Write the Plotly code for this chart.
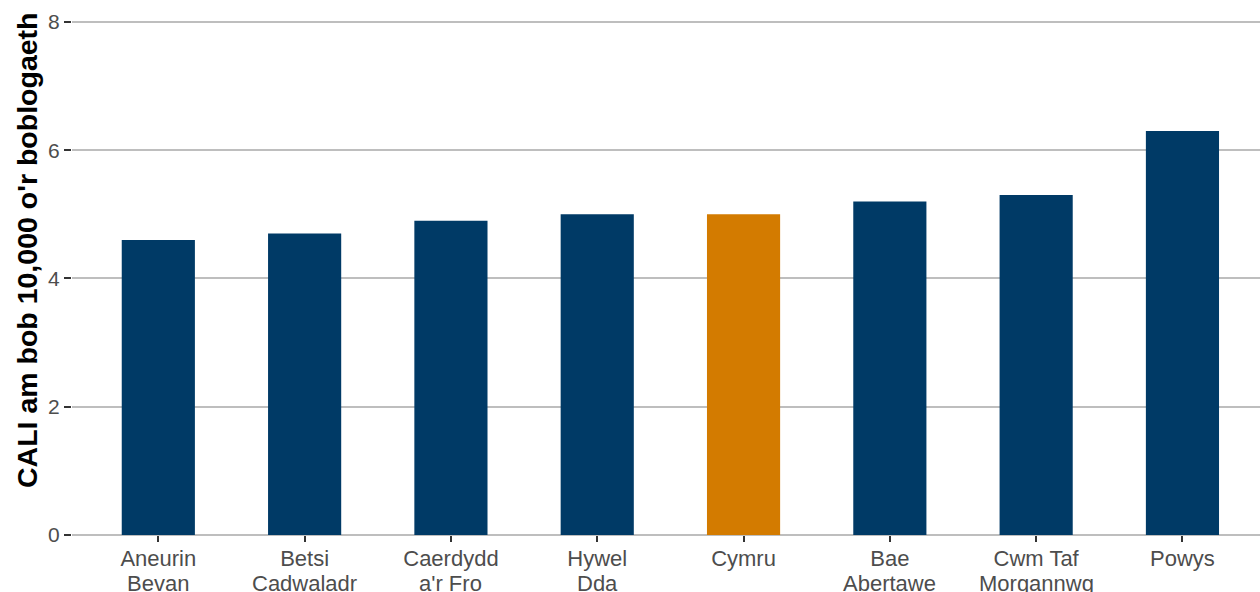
import plotly.graph_objects as go

categories = ["Aneurin<br>Bevan", "Betsi<br>Cadwaladr", "Caerdydd<br>a'r Fro", "Hywel<br>Dda",
              "Cymru", "Bae<br>Abertawe", "Cwm Taf<br>Morgannwg", "Powys"]
values = [4.6, 4.7, 4.9, 5.0, 5.0, 5.2, 5.3, 6.3]
highlight = "Cymru"
y_title = "CALI am bob 10,000 o'r boblogaeth"

NAVY = "#003A66"
ORANGE = "#D37B00"
GRID = "#BEBEBE"
colors = [ORANGE if c == highlight else NAVY for c in categories]

line1 = [c.split("<br>")[0] for c in categories]
line2 = [c.split("<br>")[1] if "<br>" in c else "" for c in categories]

T, B = 20, 535
H = B - T

fig = go.Figure(go.Bar(x=list(range(len(categories))), y=values, width=0.5,
                       marker=dict(color=colors, line=dict(width=0)),
                       hoverinfo="skip"))

fig.update_layout(
    width=1260, height=592,
    margin=dict(l=72, r=0, t=T, b=592 - B),
    plot_bgcolor="white", paper_bgcolor="white",
    showlegend=False,
    font=dict(family="Liberation Sans, Arial, sans-serif", color="#4D4D4D", size=21),
)
fig.update_xaxes(
    tickmode="array", tickvals=list(range(len(categories))), ticktext=line1,
    range=[-0.59, 7.53], showgrid=False, zeroline=False, showline=False,
    ticks="outside", ticklen=6, tickwidth=1.5, tickcolor="#333333",
    tickfont=dict(size=22, color="#4D4D4D"), automargin=False, ticklabelstandoff=-2,
)
fig.update_yaxes(
    range=[0, 8.03], tickvals=[0, 2, 4, 6, 8], showgrid=True, gridcolor=GRID, gridwidth=1.6,
    zeroline=True, zerolinecolor=GRID, zerolinewidth=1.6, showline=False,
    ticks="outside", ticklen=7, tickwidth=1.5, tickcolor="#333333",
    tickfont=dict(size=21, color="#4D4D4D"), automargin=False,
)
for i, t in enumerate(line2):
    if t:
        fig.add_annotation(
            text=t, showarrow=False, xref="x", yref="paper", x=i,
            y=-(583 - B) / H, xanchor="center", yanchor="middle",
            font=dict(size=22, color="#4D4D4D"),
        )
fig.add_annotation(
    text="<b>" + y_title + "</b>", textangle=-90, showarrow=False,
    xref="paper", yref="paper", x=0, xshift=-45, y=(B - 250) / H,
    xanchor="center", yanchor="middle",
    font=dict(size=28.5, color="#000000"),
)

fig.write_html("out.html", config={"displayModeBar": False},
               post_script="document.body.style.margin='0';document.body.style.overflow='hidden';")
